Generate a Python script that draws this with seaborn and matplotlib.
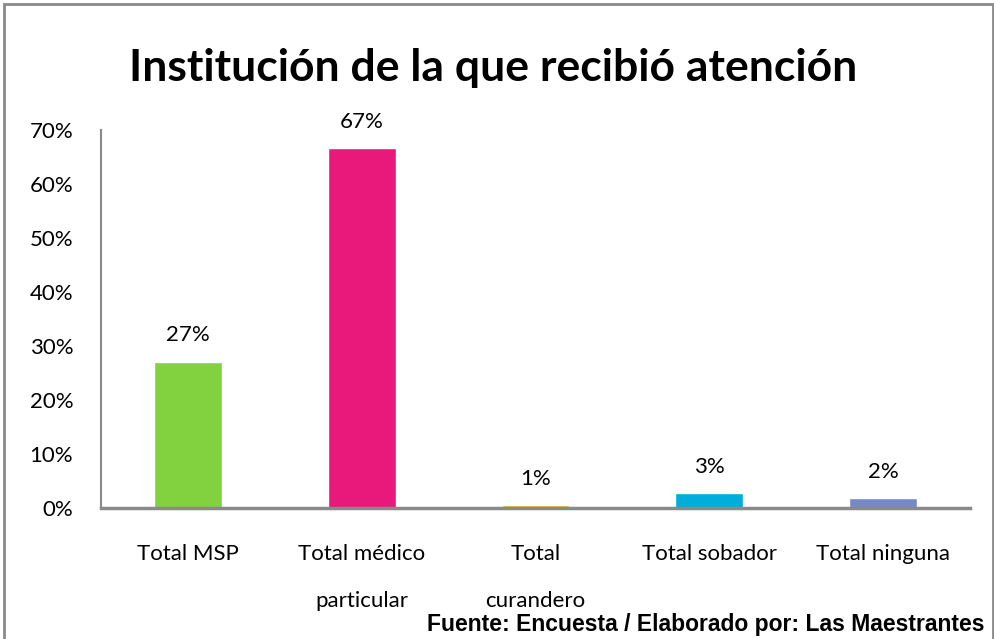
import numpy as np
import pandas as pd
import matplotlib
matplotlib.use("Agg")
import matplotlib.pyplot as plt
from matplotlib.patches import Rectangle
import seaborn as sns

categorias = ["Total MSP", "Total médico\nparticular", "Total\ncurandero",
              "Total sobador", "Total ninguna"]
porcentajes = [27.1, 66.6, 0.6, 2.7, 1.8]
etiquetas = ["27%", "67%", "1%", "3%", "2%"]
colores = ["#82D13E", "#E8197A", "#F5B41A", "#00AEDB", "#7589C8"]
ticks_y = [0, 10, 20, 30, 40, 50, 60, 70]

sns.set_theme(style="white")
plt.rcParams["font.family"] = ["Lato", "DejaVu Sans"]
plt.rcParams["text.color"] = "black"
plt.rcParams["xtick.color"] = "black"
plt.rcParams["ytick.color"] = "black"

df = pd.DataFrame({"cat": categorias, "pct": porcentajes})

fig = plt.figure(figsize=(9.95, 6.39), dpi=100)
ax = fig.add_axes([101 / 995, 1 - 508 / 639, 869 / 995, 378 / 639])

sns.barplot(data=df, x="cat", y="pct", hue="cat", palette=colores,
            width=0.39, legend=False, ax=ax, saturation=1)

for i, (v, t) in enumerate(zip(porcentajes, etiquetas)):
    ax.text(i, v + 3.0, t, ha="center", va="bottom", fontsize=16, color="black")

ax.set_ylim(0, 70)
ax.set_xlim(-0.5, 4.5)
ax.set_yticks(ticks_y)
ax.set_yticklabels([f"{t}%" for t in ticks_y], fontsize=16)
ax.tick_params(axis="x", labelsize=16, pad=20)
ax.tick_params(axis="y", pad=14)
ax.set_xlabel("")
ax.set_ylabel("")
for s in ["top", "right"]:
    ax.spines[s].set_visible(False)
ax.spines["bottom"].set_color("#8a8a8a")
ax.spines["bottom"].set_linewidth(2.5)
ax.spines["left"].set_color("#8a8a8a")
ax.spines["left"].set_linewidth(1.5)
for lbl in ax.get_xticklabels():
    lbl.set_linespacing(2.65)
    lbl.set_verticalalignment("top")

fig.text(0.496, 1 - 68 / 639, "Institución de la que recibió atención",
         ha="center", va="center", fontsize=32, fontweight="bold")
fig.text(985 / 995, 1 - 624 / 639, "Fuente: Encuesta / Elaborado por: Las Maestrantes",
         ha="right", va="center", fontsize=16.5, fontweight="bold",
         family=["Liberation Sans Narrow", "Liberation Sans", "DejaVu Sans"])

fig.patches.append(Rectangle((4 / 995, -0.01), 989 / 995, 1 - 4 / 639 + 0.01,
                             transform=fig.transFigure, fill=False,
                             edgecolor="#8a8a8a", linewidth=2))

fig.savefig("out.png", dpi=100)
